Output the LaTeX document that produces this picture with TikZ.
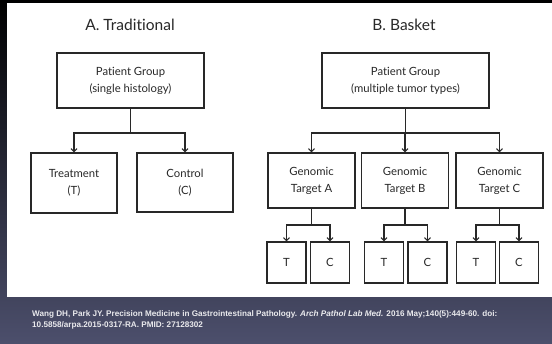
\documentclass[tikz,border=0pt]{standalone}
\usepackage{fontspec}
\setmainfont{Lato}[Ligatures=NoCommon]
\newfontfamily\reffont{Liberation Sans}
\usetikzlibrary{arrows.meta}
\definecolor{bgbot}{RGB}{76,79,108}
\definecolor{bgmid}{RGB}{38,40,62}
\definecolor{ink}{RGB}{40,40,40}
\tikzset{
  box/.style={draw=ink, line width=1.2pt, inner sep=0pt, align=center,
    text=ink, font=\fontsize{11.3}{17}\selectfont},
  grp/.style={box, minimum height=55pt},
  arm/.style={box, minimum width=87pt, minimum height=55pt},
  leaf/.style={box, minimum width=39pt, minimum height=41pt},
  link/.style={draw=ink, line width=1.1pt},
  feed/.style={link, -{Straight Barb[length=3pt,width=6pt]}},
  heading/.style={text=ink, font=\fontsize{15.5}{18}\selectfont},
}
\begin{document}
\begin{tikzpicture}[x=1pt,y=-1pt]
% backdrop and white panel
\shade[top color=black, middle color=bgmid, bottom color=bgbot] (0,0) rectangle (552,343);
\fill[white] (7,3) rectangle (552,297);

% A. traditional design
\node[heading] (ttla) at (130,25) {A. Traditional};
\node[grp, minimum width=147pt] (pga) at (130.5,80.5) {Patient Group\\(single histology)};
\node[box, minimum width=86pt, minimum height=60pt] (trt) at (74,183) {Treatment\\(T)};
\node[box, minimum width=96pt, minimum height=59pt] (ctl) at (185,182.5) {Control\\(C)};
\coordinate (splita) at (130.5,133);
\draw[link] (pga.south) -- (splita);
\draw[feed] (splita) -| (trt.north);
\draw[feed] (splita) -| (ctl.north);

% B. basket design
\node[heading] (ttlb) at (404,25) {B. Basket};
\node[grp, minimum width=167pt] (pgb) at (405.5,80.5) {Patient Group\\(multiple tumor types)};
\coordinate (splitb) at (405.5,133);
\draw[link] (pgb.south) -- (splitb);
\foreach \n/\x/\xt/\xc in {a/311.5/286.5/330, b/405/384/427.5, c/499.5/476/519}{
  \node[arm] (g\n) at (\x,180.5) {Genomic\\Target \MakeUppercase{\n}};
  \node[leaf] (t\n) at (\xt,262.5) {T};
  \node[leaf] (c\n) at (\xc,262.5) {C};
  \coordinate (s\n) at (\x,225);
  \draw[feed] (splitb) -| (g\n.north);
  \draw[link] (g\n.south) -- (s\n);
  \draw[feed] (s\n) -| (t\n.north);
  \draw[feed] (s\n) -| (c\n.north);
}

% source line
\node[anchor=north west, align=left, text=white!88!bgbot, inner sep=0pt,
  font=\reffont\bfseries\fontsize{8.15}{11}\selectfont] (src) at (32,310)
  {Wang DH, Park JY. Precision Medicine in Gastrointestinal Pathology. \textit{Arch Pathol Lab Med.} 2016 May;140(5):449-60. doi:\\
   10.5858/arpa.2015-0317-RA. PMID: 27128302};
\end{tikzpicture}
\end{document}
